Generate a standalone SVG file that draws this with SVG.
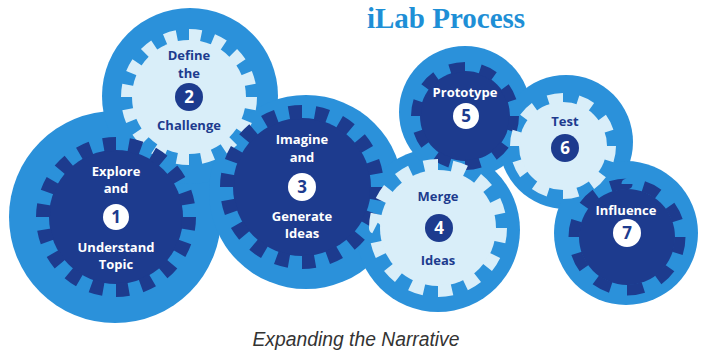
<svg xmlns="http://www.w3.org/2000/svg" width="701" height="355" viewBox="0 0 701 355">
<style>
.disk{fill:#2b91da}
.dark{fill:#1d3b8e}
.light{fill:#d9eef9}
.tdark{fill:none;stroke:#1d3b8e;stroke-dasharray:1 1}
.tlight{fill:none;stroke:#d9eef9;stroke-dasharray:1 1}
.lbl{font-family:"Open Sans","Liberation Sans",sans-serif;font-weight:bold;font-size:13px;text-anchor:middle}
.w{fill:#ffffff}
.n{fill:#1d3b8e}
.num{font-family:"Open Sans","Liberation Sans",sans-serif;font-weight:bold;font-size:17px;text-anchor:middle}
</style>
<rect width="701" height="355" fill="#ffffff"/>
<g id="backdrop">
<circle class="disk" cx="115" cy="217" r="106"/>
<circle class="disk" cx="190" cy="96" r="88"/>
<circle class="disk" cx="306" cy="192" r="97"/>
<circle class="disk" cx="438" cy="230" r="82"/>
<circle class="disk" cx="465" cy="112" r="66"/>
<circle class="disk" cx="566" cy="142" r="67"/>
<circle class="disk" cx="626" cy="233" r="72"/>
</g>
<text x="446" y="28" font-family="'Liberation Serif',serif" font-weight="bold" font-size="29" fill="#1e8fd6" text-anchor="middle">iLab Process</text>
<g id="node2">
<circle class="light" cx="189" cy="97" r="57"/>
<circle class="tlight" cx="189" cy="97" r="62" stroke-width="12" pathLength="32"/>
<text class="lbl n" x="189" y="60">Define</text>
<text class="lbl n" x="189" y="78">the</text>
<circle class="dark" cx="189" cy="97" r="14"/>
<text class="num w" x="189" y="103">2</text>
<text class="lbl n" x="189" y="130">Challenge</text>
</g>
<g id="node1">
<circle class="dark" cx="116" cy="217" r="67"/>
<circle class="tdark" cx="116" cy="217" r="73" stroke-width="14" pathLength="36"/>
<text class="lbl w" x="116" y="176">Explore</text>
<text class="lbl w" x="116" y="193">and</text>
<circle fill="#ffffff" cx="116" cy="217" r="13"/>
<text class="num n" x="116" y="223">1</text>
<text class="lbl w" x="116" y="252">Understand</text>
<text class="lbl w" x="116" y="269">Topic</text>
</g>
<g id="node3">
<circle class="dark" cx="302" cy="187" r="69"/>
<circle class="tdark" cx="302" cy="187" r="75" stroke-width="14" pathLength="36"/>
<text class="lbl w" x="302" y="144">Imagine</text>
<text class="lbl w" x="302" y="162">and</text>
<circle fill="#ffffff" cx="302" cy="187" r="14"/>
<text class="num n" x="302" y="193">3</text>
<text class="lbl w" x="302" y="221">Generate</text>
<text class="lbl w" x="302" y="238">Ideas</text>
</g>
<g id="node5">
<circle class="dark" cx="465" cy="116" r="45"/>
<circle class="tdark" cx="465" cy="116" r="49" stroke-width="10" pathLength="20"/>
<text class="lbl w" x="465" y="97">Prototype</text>
<circle fill="#ffffff" cx="466" cy="116" r="13"/>
<text class="num n" x="466" y="122">5</text>
</g>
<g id="node4">
<circle class="light" cx="438" cy="228" r="58"/>
<circle class="tlight" cx="438" cy="228" r="63" stroke-width="12" pathLength="28"/>
<text class="lbl n" x="438" y="201">Merge</text>
<circle class="dark" cx="439" cy="228" r="14"/>
<text class="num w" x="439" y="234">4</text>
<text class="lbl n" x="438" y="265">Ideas</text>
</g>
<g id="node6">
<circle class="light" cx="563" cy="146" r="44"/>
<circle class="tlight" cx="563" cy="146" r="48" stroke-width="10" pathLength="20"/>
<text class="lbl n" x="565" y="126">Test</text>
<circle class="dark" cx="565" cy="148" r="14"/>
<text class="num w" x="565" y="154">6</text>
</g>
<g id="node7">
<circle class="dark" cx="627" cy="237" r="48"/>
<circle class="tdark" cx="627" cy="237" r="53" stroke-width="11" pathLength="20"/>
<text class="lbl w" x="626" y="215">Influence</text>
<circle fill="#ffffff" cx="627" cy="233" r="14"/>
<text class="num n" x="627" y="239">7</text>
</g>
<text x="356" y="346" font-family="'Liberation Sans',sans-serif" font-style="italic" font-size="20" fill="#333333" text-anchor="middle" textLength="207" lengthAdjust="spacingAndGlyphs">Expanding the Narrative</text>
</svg>
